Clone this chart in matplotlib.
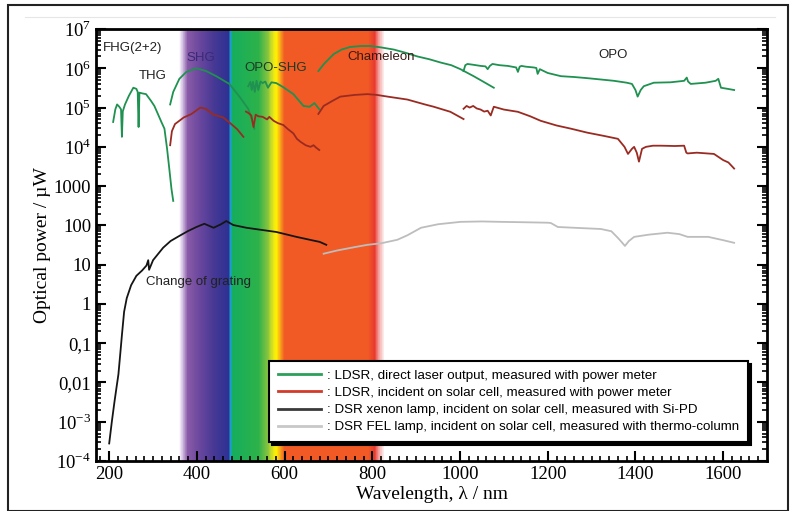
"""Optical power of the laser / lamp sources versus wavelength."""

import numpy as np
import matplotlib
matplotlib.use("Agg")
import matplotlib.pyplot as plt
from matplotlib.colors import LinearSegmentedColormap
from matplotlib.lines import Line2D
from matplotlib.patches import Rectangle

plt.rcParams["font.family"] = ["Liberation Serif", "DejaVu Serif"]
plt.rcParams["mathtext.fontset"] = "custom"
plt.rcParams["mathtext.rm"] = "Liberation Serif"

# ---- data ----
# LDSR direct laser output (green), one list per source
g_thg_wl = [209, 214, 218, 223, 227, 229, 231, 236, 245, 255, 262, 265, 267, 269, 275, 284, 295, 303, 312, 319, 326, 332, 337, 342, 346]
g_thg_p = [4.3e4, 9e4, 1.2e5, 1.05e5, 9e4, 1.8e4, 8e4, 1.2e5, 2.0e5, 3.2e5, 3.0e5, 2.5e5, 3.2e4, 2.4e5, 2.3e5, 2.2e5, 1.5e5, 1.1e5, 6.5e4, 4.3e4, 2.9e4, 8.9e3, 2.8e3, 850, 420]
g_shg_wl = [339, 346, 360, 376, 399, 421, 444, 474, 497, 517, 529, 531]
g_shg_p = [1.2e5, 2.5e5, 5.4e5, 8.1e5, 1.0e6, 8.5e5, 6.3e5, 4.0e5, 1.9e5, 9.3e4, 3.8e4, 2.9e4]
g_oposhg_wl = [517, 522, 525, 528, 532, 536, 540, 545, 550, 556, 562, 570, 581, 597, 620, 643, 657, 668, 679]
g_oposhg_p = [3.5e5, 4.5e5, 2.8e5, 4.5e5, 2.5e5, 4.8e5, 2.8e5, 4.6e5, 4.2e5, 4.6e5, 3.2e5, 4.4e5, 4.2e5, 3.3e5, 2.2e5, 1.1e5, 1.05e5, 1.3e5, 9.1e4]
g_cham_wl = [677, 690, 712, 730, 750, 775, 796, 820, 849, 875, 903, 930, 956, 980, 1001, 1031, 1054, 1077]
g_cham_p = [8.5e5, 1.3e6, 2.3e6, 3.0e6, 3.5e6, 3.7e6, 3.7e6, 3.4e6, 3.0e6, 2.5e6, 2.0e6, 1.7e6, 1.4e6, 1.2e6, 9.5e5, 6.3e5, 4.5e5, 3.2e5]
g_opo_wl = [1008, 1012, 1017, 1030, 1047, 1058, 1063, 1068, 1074, 1090, 1109, 1128, 1132, 1136, 1140, 1150, 1168, 1174, 1177, 1182,
            1200, 1230, 1260, 1291, 1320, 1351, 1380, 1392, 1400, 1405, 1412, 1419, 1442, 1480, 1511, 1517, 1520, 1526, 1560, 1583,
            1589, 1595, 1610, 1625]
g_opo_p = [8.5e5, 1.2e6, 1.29e6, 1.23e6, 1.15e6, 1.12e6, 9.5e5, 1.15e6, 1.29e6, 1.2e6, 1.15e6, 1.05e6, 8.1e5, 1.1e6, 1.15e6, 1.1e6,
           1.05e6, 1.02e6, 7.2e5, 9.5e5, 7.6e5, 6.3e5, 6.0e5, 5.6e5, 5.2e5, 4.8e5, 4.3e5, 4.0e5, 2.8e5, 1.9e5, 2.8e5, 3.5e5, 4.3e5,
           4.4e5, 4.8e5, 5.8e5, 4.6e5, 4.0e5, 4.3e5, 4.8e5, 5.4e5, 3.2e5, 3.0e5, 2.8e5]

# LDSR incident on solar cell (dark red)
r_shg_wl = [339, 343, 350, 370, 387, 408, 420, 438, 460, 476, 492, 506]
r_shg_p = [1.1e4, 2.5e4, 3.8e4, 5.6e4, 6.8e4, 1.0e5, 9.3e4, 6.6e4, 5.6e4, 4.0e4, 2.8e4, 1.8e4]
r_oposhg_wl = [512, 518, 524, 529, 534, 540, 550, 560, 565, 575, 585, 597, 608, 620, 628, 636, 648, 659, 666, 672, 679]
r_oposhg_p = [7.9e4, 7.2e4, 6.3e4, 3.2e4, 6.6e4, 6.0e4, 5.8e4, 5.0e4, 5.8e4, 4.6e4, 4.0e4, 3.6e4, 2.8e4, 2.2e4, 1.6e4, 1.35e4, 1.1e4, 1.0e4, 1.1e4, 9.5e3, 8.3e3]
r_cham_wl = [677, 689, 710, 727, 760, 789, 810, 835, 880, 920, 940, 978, 1008]
r_cham_p = [6.9e4, 1.1e5, 1.5e5, 1.9e5, 2.1e5, 2.2e5, 2.1e5, 1.9e5, 1.6e5, 1.2e5, 1.05e5, 7.8e4, 5.1e4]
r_opo_wl = [1008, 1015, 1022, 1030, 1038, 1047, 1055, 1063, 1070, 1077, 1100, 1132, 1160, 1184, 1220, 1253, 1290, 1328, 1360,
            1375, 1383, 1392, 1397, 1403, 1408, 1415, 1424, 1440, 1458, 1490, 1511, 1516, 1519, 1540, 1579, 1600, 1612, 1625]
r_opo_p = [9.3e4, 1.1e5, 1.0e5, 1.1e5, 9.5e4, 8.9e4, 7.9e4, 8.3e4, 6.3e4, 1.05e5, 8.9e4, 7.8e4, 6.0e4, 4.6e4, 3.5e4, 2.9e4,
           2.3e4, 1.9e4, 1.6e4, 1.0e4, 6.6e3, 8.9e3, 1.0e4, 7.1e3, 4.2e3, 8.9e3, 1.0e4, 1.07e4, 1.07e4, 1.05e4, 1.07e4, 7.1e3,
           6.8e3, 7.1e3, 6.6e3, 4.6e3, 4.0e3, 2.8e3]

# DSR xenon lamp (black) and FEL lamp (light gray)
xe_wl = [200, 206, 212, 217, 221, 225, 229, 234, 240, 250, 262, 275, 285, 289, 291, 300, 323, 340, 360, 380, 399, 417, 438,
         455, 467, 483, 513, 550, 581, 627, 666, 680, 695]
xe_p = [2.8e-4, 1e-3, 3.2e-3, 7.9e-3, 1.6e-2, 5e-2, 0.16, 0.63, 1.4, 3.0, 5.2, 7.1, 9.5, 13, 7.4, 13, 27, 40, 54, 72, 91,
        110, 87, 107, 129, 102, 87, 76, 68, 51, 41, 38, 32]
fel_wl = [689, 720, 760, 789, 820, 857, 880, 911, 950, 1001, 1050, 1093, 1150, 1200, 1207, 1223, 1260, 1321, 1345, 1360,
          1370, 1376, 1385, 1397, 1430, 1473, 1500, 1519, 1566, 1600, 1625]
fel_p = [19, 23, 28, 32, 35, 43, 56, 87, 107, 123, 126, 123, 120, 117, 115, 91, 87, 81, 71, 48, 36, 30, 40, 51, 58, 65,
         60, 51, 51, 42, 36]

legend_labels = [
    ": LDSR, direct laser output, measured with power meter",
    ": LDSR, incident on solar cell, measured with power meter",
    ": DSR xenon lamp, incident on solar cell, measured with Si-PD",
    ": DSR FEL lamp, incident on solar cell, measured with thermo-column",
]

y_ticks = [1e-4, 1e-3, 1e-2, 1e-1, 1, 10, 100, 1000, 1e4, 1e5, 1e6, 1e7]
y_ticklabels = [r"$10^{-4}$", r"$10^{-3}$", "0,01", "0,1", "1", "10", "100", "1000",
                r"$10^{4}$", r"$10^{5}$", r"$10^{6}$", r"$10^{7}$"]

# visible spectrum band behind the curves: (wavelength nm, colour)
band_stops = [
    (358, "#ffffff"), (366, "#d8c6e6"), (378, "#8a5ca8"), (405, "#6b479e"),
    (440, "#453894"), (472, "#2e3192"), (476, "#1aa0dc"), (481, "#16ad5c"),
    (540, "#2db24a"), (562, "#86c440"), (574, "#e8e61a"), (581, "#fff200"),
    (590, "#f8a51b"), (600, "#f15a24"), (790, "#f15a24"), (806, "#e9392e"),
    (816, "#f4a5a2"), (828, "#ffffff"),
]

GREEN = "#1f9150"
RED = "#9a2b22"
BLACK = "#151515"
GRAY = "#bdbdbd"


def main():
    fig = plt.figure(figsize=(7.95, 5.11), dpi=100)
    ax = fig.add_axes([0.1208, 0.0978, 0.8440, 0.8454])

    # outer frame and thin rule at the top
    fig.patches.append(Rectangle((8 / 795, 0), 780 / 795, 506 / 511, transform=fig.transFigure,
                                 fill=False, edgecolor="#222222", lw=1.5))
    fig.lines.append(Line2D([25 / 795, 775 / 795], [494 / 511, 494 / 511], transform=fig.transFigure,
                            color="#e6e6e6", lw=0.8))

    # spectrum band
    lo, hi = band_stops[0][0], band_stops[-1][0]
    cmap = LinearSegmentedColormap.from_list(
        "spec", [((w - lo) / (hi - lo), c) for w, c in band_stops], N=512)
    xs = np.linspace(lo, hi, 400)
    mids = 0.5 * (xs[:-1] + xs[1:])
    ax.pcolormesh(xs, [1e-4, 1e7], mids[None, :], cmap=cmap,
                  vmin=lo, vmax=hi, shading="flat", zorder=0, rasterized=True)

    lw = 1.3
    for wl, p in [(g_thg_wl, g_thg_p), (g_shg_wl, g_shg_p), (g_oposhg_wl, g_oposhg_p),
                  (g_cham_wl, g_cham_p), (g_opo_wl, g_opo_p)]:
        ax.plot(wl, p, color=GREEN, lw=lw, zorder=3)
    for wl, p in [(r_shg_wl, r_shg_p), (r_oposhg_wl, r_oposhg_p), (r_cham_wl, r_cham_p), (r_opo_wl, r_opo_p)]:
        ax.plot(wl, p, color=RED, lw=lw, zorder=3)
    ax.plot(xe_wl, xe_p, color=BLACK, lw=lw, zorder=3)
    ax.plot(fel_wl, fel_p, color=GRAY, lw=lw, zorder=3)

    # source labels
    sans = ["Liberation Sans", "DejaVu Sans"]
    ax.text(186, 3.3e6, "FHG(2+2)", family=sans, fontsize=9.5, color="#222222", ha="left", va="center")
    ax.text(300, 6.3e5, "THG", family=sans, fontsize=9.5, color="#222222", ha="center", va="center")
    ax.text(408, 1.85e6, "SHG", family=sans, fontsize=9.5, color="#3b2a78", ha="center", va="center")
    ax.text(579, 1.0e6, "OPO-SHG", family=sans, fontsize=9.5, color="#1e3a24", ha="center", va="center")
    ax.text(821, 1.95e6, "Chameleon", family=sans, fontsize=9.5, color="#3a1a14", ha="center", va="center")
    ax.text(1348, 2.2e6, "OPO", family=sans, fontsize=9.5, color="#222222", ha="center", va="center")
    ax.text(284, 3.6, "Change of grating", family=sans, fontsize=9.5, color="#222222", ha="left", va="center")

    ax.set_yscale("log")
    ax.set_xlim(170, 1700)
    ax.set_ylim(1e-4, 1e7)
    ax.set_xticks([200, 400, 600, 800, 1000, 1200, 1400, 1600])
    ax.set_xticks(np.arange(180, 1700, 20), minor=True)
    ax.set_yticks(y_ticks)
    ax.set_yticklabels(y_ticklabels)
    ax.yaxis.set_minor_locator(matplotlib.ticker.LogLocator(base=10, subs=np.arange(2, 10), numticks=20))
    ax.yaxis.set_minor_formatter(matplotlib.ticker.NullFormatter())
    ax.tick_params(which="both", direction="in", top=False, right=True, labelsize=13.5, width=1.2)
    ax.tick_params(which="major", length=7, width=1.5)
    ax.tick_params(which="minor", length=3.5)
    for s in ax.spines.values():
        s.set_linewidth(2)

    ax.set_xlabel("Wavelength, λ / nm", fontsize=14, labelpad=2)
    ax.set_ylabel("Optical power / µW", fontsize=14, labelpad=2)

    handles = [Line2D([], [], color=c, lw=2) for c in ["#2aa05a", "#d23a2a", "#3a3a3a", "#c8c8c8"]]
    leg = ax.legend(handles, legend_labels, loc="lower right", bbox_to_anchor=(0.972, 0.044),
                    prop={"family": sans, "size": 9.6}, frameon=True, fancybox=False,
                    shadow={"color": "black", "alpha": 1}, handlelength=3.2, handletextpad=0.5,
                    borderpad=0.65, borderaxespad=0, labelspacing=0.36, framealpha=1)
    leg.get_frame().set_edgecolor("black")
    leg.get_frame().set_linewidth(1.5)
    leg.set_zorder(5)

    fig.savefig("out.png", dpi=100, facecolor="white")
    plt.close(fig)


if __name__ == "__main__":
    main()
